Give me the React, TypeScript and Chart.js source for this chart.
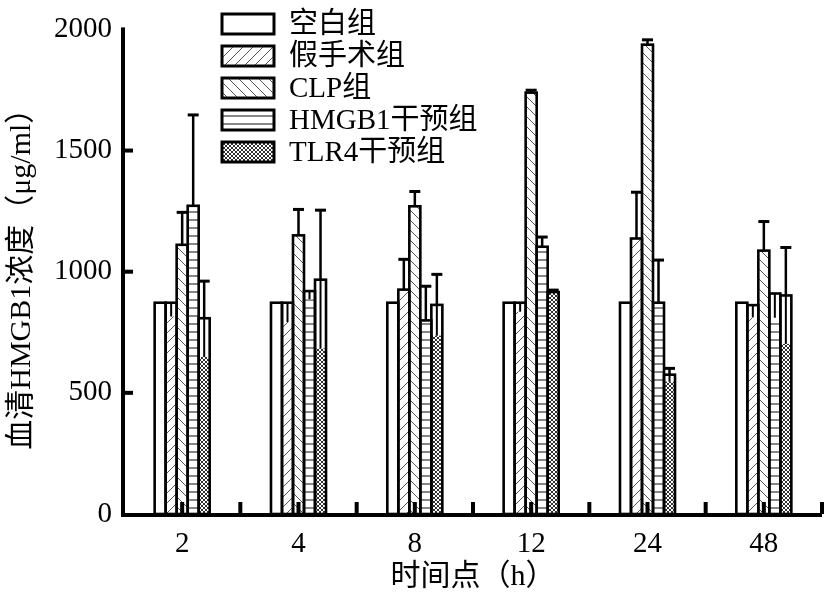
import React, { useEffect, useRef } from 'react';
import { Chart, registerables } from 'chart.js';

Chart.register(...registerables);

// ---- data ----
const categories = ['2', '4', '8', '12', '24', '48'];
const seriesNames = ['空白组', '假手术组', 'CLP组', 'HMGB1干预组', 'TLR4干预组'];

const blankValues = [872, 872, 872, 872, 872, 872];
const blankErrUp = [0, 0, 0, 0, 0, 0];
const blankErrDown = [0, 0, 0, 0, 0, 0];

const shamValues = [872, 872, 926, 872, 1137, 862];
const shamErrUp = [0, 0, 125, 0, 191, 0];
const shamErrDown = [57, 80, 0, 37, 0, 50];

const clpValues = [1111, 1150, 1270, 1739, 1937, 1087];
const clpErrUp = [134, 107, 61, 10, 20, 120];
const clpErrDown = [0, 0, 0, 0, 0, 0];

const hmgbValues = [1272, 920, 799, 1103, 872, 910];
const hmgbErrUp = [375, 0, 141, 40, 176, 0];
const hmgbErrDown = [0, 34, 0, 0, 0, 100];

const tlrValues = [808, 967, 863, 916, 575, 902];
const tlrErrUp = [153, 287, 126, 8, 26, 198];
const tlrErrDown = [160, 284, 127, 0, 29, 200];

const yMin = 0;
const yMax = 2000;
const yStep = 500;

const xTitle = '时间点（h）';
const yTitle = '血清HMGB1浓度（μg/ml）';

const FONT = "'Liberation Serif', 'Times New Roman', 'Noto Sans CJK SC', serif";

function makePattern(kind: string): CanvasPattern | string {
  const c = document.createElement('canvas');
  const size = kind === 'cross' ? 4 : kind === 'horiz' ? 8 : 10;
  c.width = size;
  c.height = size;
  const g = c.getContext('2d')!;
  g.fillStyle = '#fff';
  g.fillRect(0, 0, size, size);
  g.strokeStyle = '#555';
  g.lineWidth = 1;
  if (kind === 'fwd') {
    g.beginPath();
    g.moveTo(0, size); g.lineTo(size, 0);
    g.moveTo(-2, 2); g.lineTo(2, -2);
    g.moveTo(size - 2, size + 2); g.lineTo(size + 2, size - 2);
    g.stroke();
  } else if (kind === 'back') {
    g.beginPath();
    g.moveTo(0, 0); g.lineTo(size, size);
    g.moveTo(size - 2, -2); g.lineTo(size + 2, 2);
    g.moveTo(-2, size - 2); g.lineTo(2, size + 2);
    g.stroke();
  } else if (kind === 'horiz') {
    g.strokeStyle = '#444';
    g.lineWidth = 1.3;
    g.beginPath();
    g.moveTo(0, 4); g.lineTo(size, 4);
    g.stroke();
  } else if (kind === 'cross') {
    g.strokeStyle = '#333';
    g.beginPath();
    g.moveTo(0, 0); g.lineTo(size, size);
    g.moveTo(size, 0); g.lineTo(0, size);
    g.stroke();
  } else {
    return '#fff';
  }
  return g.createPattern(c, 'repeat') as CanvasPattern;
}

const decorPlugin = {
  id: 'decor',
  afterDatasetsDraw(chart: any) {
    const ctx = chart.ctx as CanvasRenderingContext2D;
    const yScale = chart.scales.y;
    const xScale = chart.scales.x;
    const area = chart.chartArea;
    const dsets = chart.data.datasets;
    ctx.save();
    // lower error region (white box with centre line)
    dsets.forEach((ds: any, di: number) => {
      const meta = chart.getDatasetMeta(di);
      meta.data.forEach((bar: any, i: number) => {
        const { x, y, width } = bar.getProps(['x', 'y', 'width'], true);
        const down = ds.errDown[i];
        if (down > 0) {
          const yB = yScale.getPixelForValue(ds.data[i] - down);
          ctx.fillStyle = '#fff';
          ctx.fillRect(x - width / 2, y, width, yB - y);
          ctx.strokeStyle = '#000';
          ctx.lineWidth = 2;
          ctx.beginPath();
          ctx.moveTo(x, y);
          ctx.lineTo(x, yB);
          ctx.stroke();
        }
      });
    });
    // outlines
    ctx.strokeStyle = '#000';
    ctx.lineWidth = 2.6;
    dsets.forEach((ds: any, di: number) => {
      const meta = chart.getDatasetMeta(di);
      meta.data.forEach((bar: any) => {
        const { x, y, width, base } = bar.getProps(['x', 'y', 'width', 'base'], true);
        ctx.strokeRect(x - width / 2, y, width, base - y);
      });
    });
    // upper error bars
    dsets.forEach((ds: any, di: number) => {
      const meta = chart.getDatasetMeta(di);
      meta.data.forEach((bar: any, i: number) => {
        const { x, y, width } = bar.getProps(['x', 'y', 'width'], true);
        const up = ds.errUp[i];
        if (up > 0) {
          const yT = yScale.getPixelForValue(ds.data[i] + up);
          ctx.lineWidth = 2.5;
          ctx.beginPath();
          ctx.moveTo(x, y);
          ctx.lineTo(x, yT);
          ctx.stroke();
          ctx.lineWidth = 3;
          ctx.beginPath();
          ctx.moveTo(x - width / 2, yT);
          ctx.lineTo(x + width / 2, yT);
          ctx.stroke();
        }
      });
    });
    // axes lines
    ctx.fillStyle = '#000';
    ctx.fillRect(area.left - 3, area.top - 2, 4, area.bottom - area.top + 4);
    ctx.fillRect(area.left - 3, area.bottom - 1, area.right - area.left + 3, 4);
    // y ticks (inward)
    for (let v = yMin + yStep; v < yMax; v += yStep) {
      const py = yScale.getPixelForValue(v);
      ctx.fillRect(area.left, py - 2, 9, 4);
    }
    // x ticks (inward): category centres and boundaries
    const n = categories.length;
    const half = (xScale.getPixelForValue(1) - xScale.getPixelForValue(0)) / 2;
    for (let i = 0; i < n; i++) {
      const cx = xScale.getPixelForValue(i);
      ctx.fillRect(cx - 2, area.bottom - 12, 4, 12);
      ctx.fillRect(cx + half - 2, area.bottom - 12, 4, 12);
    }
    ctx.restore();
  },
  afterDraw(chart: any) {
    const ctx = chart.ctx as CanvasRenderingContext2D;
    const dsets = chart.data.datasets;
    ctx.save();
    const lx = 222;
    const ly = 14;
    const rowH = 32;
    dsets.forEach((ds: any, i: number) => {
      const y = ly + i * rowH;
      ctx.fillStyle = ds.backgroundColor;
      ctx.fillRect(lx, y, 52, 20);
      ctx.strokeStyle = '#000';
      ctx.lineWidth = 3;
      ctx.strokeRect(lx, y, 52, 20);
      ctx.fillStyle = '#000';
      ctx.font = `29px ${FONT}`;
      ctx.textBaseline = 'middle';
      ctx.textAlign = 'left';
      ctx.fillText(ds.label, lx + 67, y + 11);
    });
    ctx.restore();
  },
};

export default function App() {
  const ref = useRef<HTMLCanvasElement | null>(null);
  useEffect(() => {
    if (!ref.current) return;
    const patterns = ['blank', 'fwd', 'back', 'horiz', 'cross'].map(makePattern);
    const values = [blankValues, shamValues, clpValues, hmgbValues, tlrValues];
    const ups = [blankErrUp, shamErrUp, clpErrUp, hmgbErrUp, tlrErrUp];
    const downs = [blankErrDown, shamErrDown, clpErrDown, hmgbErrDown, tlrErrDown];
    const chart = new Chart(ref.current, {
      type: 'bar',
      data: {
        labels: categories,
        datasets: seriesNames.map((name, i) => ({
          label: name,
          data: values[i],
          errUp: ups[i],
          errDown: downs[i],
          backgroundColor: patterns[i] as any,
          borderWidth: 0,
          categoryPercentage: 0.473,
          barPercentage: 1,
        })) as any,
      },
      options: {
        responsive: false,
        animation: false,
        devicePixelRatio: 1,
        layout: { padding: { top: 16, right: 5, left: 0, bottom: 0 } },
        plugins: {
          legend: { display: false },
          tooltip: { enabled: false },
        },
        scales: {
          x: {
            grid: { display: false, drawTicks: false },
            border: { display: false },
            ticks: {
              color: '#000',
              font: { family: FONT, size: 29 },
              padding: 13,
              maxRotation: 0,
            },
            title: {
              display: true,
              text: xTitle,
              color: '#000',
              font: { family: FONT, size: 30 },
              padding: { top: 0, bottom: 0 },
            },
            afterFit: (s: any) => { s.height = 81; },
          },
          y: {
            min: yMin,
            max: yMax,
            grid: { display: false, drawTicks: false },
            border: { display: false },
            ticks: {
              stepSize: yStep,
              color: '#000',
              font: { family: FONT, size: 29 },
              padding: 12,
              callback: (v: any) => String(v),
            },
            title: {
              display: true,
              text: yTitle,
              color: '#000',
              font: { family: FONT, size: 30 },
              padding: { top: 4, bottom: 0 },
            },
            afterFit: (s: any) => { s.width = 124; },
          },
        },
      } as any,
      plugins: [decorPlugin],
    });
    return () => chart.destroy();
  }, []);
  return (
    <div style={{ position: 'absolute', left: 0, top: 0, width: 827, height: 595, background: '#fff' }}>
      <canvas ref={ref} width={827} height={595} style={{ display: 'block', width: 827, height: 595 }} />
    </div>
  );
}
